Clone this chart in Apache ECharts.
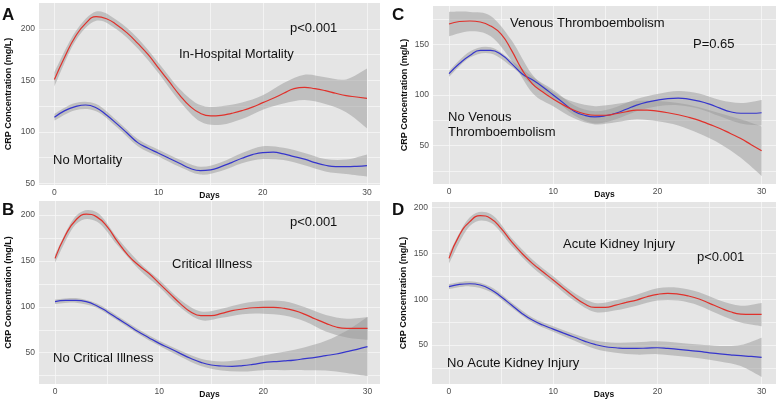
<!DOCTYPE html>
<html><head><meta charset="utf-8">
<script src="https://cdn.jsdelivr.net/npm/echarts@6/dist/echarts.min.js"></script>
<style>html,body{margin:0;padding:0;background:#fff}#c{width:780px;height:403px}</style>
</head><body><div id="c"></div>
<script>
// ---- data ----
const days = [0,1,2,3,4,5,6,7,8,9,10,11,12,13,14,15,16,17,18,19,20,21,22,23,24,25,26,27,28,29,30];
const bandDays = [0,2,4,6,8,10,12,14,16,18,20,22,24,26,28,30];
const xTickLabels = [0,10,20,30];

// Panel A: In-Hospital Mortality vs No Mortality
const aRed  = [151,173,192.5,205.5,212,210,204,196,186,175,162,149,136,125,118,115.5,116,118,120.6,124,128.4,132.6,137.5,142,143.3,142,140,137.5,135.2,133.9,132.6];
const aBlue = [114.2,120.6,124.5,126.1,123.5,116.4,107.7,98.6,89.5,84,79.2,74.3,69.5,64.6,62.3,63,66.2,70.1,74.3,77.8,79.8,80.2,78.5,75.9,73.4,70.1,67.5,66.2,66.2,66.5,67.2];
const aRedLo  = [144,188,208,199.5,181,157,130,110,107,112.5,121.5,127.5,131,127,119,103.5];
const aRedHi  = [158,197,217,208.5,191,167,142,126,125,128.5,135.5,147.5,155.5,153,151,161.5];
const aBlueLo = [111,121,120,104.5,86,76,66,58.5,62,69.5,73.5,72.5,67.5,61.5,59,56.5];
const aBlueHi = [117.5,128,127,111,93,82.5,73,66,70.5,79.5,86,84.5,79.5,73.5,73,78];

// Panel B: Critical Illness vs No Critical Illness
const bRed  = [152.8,178,194.6,201,198,187.3,171,156.4,145.5,136.5,125.6,114.7,103.8,94.7,90.3,90.3,92.9,95.8,97.6,99,99.4,99.4,98.3,95.8,91.8,86.7,82,78,76.5,76.5,76.5];
const bBlue = [105.6,107,107,105.6,101.2,94.7,87.4,80.2,72.9,66.4,60.2,54.8,49.3,43.9,39.5,36.6,35.5,35.2,35.9,37.3,39.1,40.2,41,42,43.5,45,46.8,48.6,51.1,53.7,56.6];
const bRedLo  = [148,190,193,167,141.5,121.5,99.5,85.5,88,92,92.5,90.5,84,73,66.5,64];
const bRedHi  = [157,199,203,175,149.5,129.5,108,95,98,103.5,106.5,106,99.5,91,87,89];
const bBlueLo = [103,104.5,99,85,70.5,57.5,46,35.5,30.5,29.5,31,31,31,30.5,28,24.5];
const bBlueHi = [108,109.5,103.5,90,75.5,63,52.5,43.5,40.5,42.5,47,51,56,63,74,89];

// Panel C: Venous Thromboembolism vs No Venous Thromboembolism
const cRed  = [170,172.5,173,172,168,160,144,125,111,103,96,90,85,81.5,80,80,81.5,83.5,85,85,84,82.5,80.5,78,75,71,67,62,57,51,45];
const cBlue = [121,131,139,144,144,140,131,121,115,108,100,92,84,80,78.5,79.5,82,86,90,93,95,96.5,97,96,94,91,87,83.5,82,82,82.5];
const cRedLo  = [158,163,158,134,102,89,77,71,73,76,74,70,62,52,38,20];
const cRedHi  = [182,182,178,154,120,103,93,89,91,94,94,92,88,82,76,69];
const cBlueLo = [118,137,141,128,110,97,80,72,76,84,89,90,86.5,79,72,70];
const cBlueHi = [124,143,147,134,118,105,90,84,88,96,101,104,101.5,95,92,95];

// Panel D: Acute Kidney Injury vs No Acute Kidney Injury
const dRed  = [144.6,170,184.7,191.3,188.3,177.4,162.8,150.1,139.2,130,121,111.8,102.7,95,91,91,93.6,96.5,99.1,102.7,105.3,106.4,105.6,103.5,100.2,95.5,90.7,86.3,83.8,83.4,83.4];
const dBlue = [113.7,116.2,116.9,115.5,110.7,102.7,93.6,84.5,77.2,71.8,67.4,63,58.7,54.3,50.6,48.1,47,46.3,46.3,46.6,47,46.3,45.2,44.1,43,41.5,40.4,39.3,38.3,37.5,36.4];
const dRedLo  = [139,180,183.5,158.5,135,117,98.5,86,88,93,98.5,98.5,93,83,74.5,70.5];
const dRedHi  = [150,189.5,193,167,143.5,125,107,96,99,105,112,112.5,107.5,98.5,93,96];
const dBlueLo = [111,114,108,91,74.5,64.5,55,46,41.5,39.5,40,38,35.5,32,27,15];
const dBlueHi = [116.5,119.5,113.5,96.5,80,70.5,62,55,52.5,53,54,52.5,50.5,49,50,58];

const yLabelsA = [50,100,150,200];
const yLabelsB = [50,100,150,200];
const yLabelsC = [50,100,150];
const yLabelsD = [50,100,150,200];
const yGridA = [50,75,100,125,150,175,200];
const yGridB = [25,50,75,100,125,150,175,200];
const yGridC = [25,50,75,100,125,150,175];
const yGridD = [25,50,75,100,125,150,175,200];
const xGrid = [0,5,10,15,20,25,30];

// ---- layout ----
const panels = [
  {grid:{left:39,top:3,width:341,height:182}, x:[-1.48,31.25], y:[48.3,225.3], yl:yLabelsA, yg:yGridA, nameGap:26,
   red:aRed, blue:aBlue, rl:aRedLo, rh:aRedHi, bl:aBlueLo, bh:aBlueHi},
  {grid:{left:39,top:201,width:341,height:183}, x:[-1.54,31.2], y:[15.9,215.3], yl:yLabelsB, yg:yGridB, nameGap:26,
   red:bRed, blue:bBlue, rl:bRedLo, rh:bRedHi, bl:bBlueLo, bh:bBlueHi},
  {grid:{left:433,top:6,width:343,height:178}, x:[-1.54,31.38], y:[12.2,187.8], yl:yLabelsC, yg:yGridC, nameGap:24,
   red:cRed, blue:cBlue, rl:cRedLo, rh:cRedHi, bl:cBlueLo, bh:cBlueHi},
  {grid:{left:432,top:202,width:344,height:182}, x:[-1.63,31.38], y:[7.4,206.2], yl:yLabelsD, yg:yGridD, nameGap:24,
   red:dRed, blue:dBlue, rl:dRedLo, rh:dRedHi, bl:dBlueLo, bh:dBlueHi}
];

const BG = '#e5e5e5', GRIDC = '#f6f6f6', RED = '#e0312b', BLUE = '#3535cc', BAND = '#999999';
const labelFont = {fontFamily:'Liberation Sans', fontSize:8.5, color:'#4d4d4d'};

// smooth path through pixel points (Catmull-Rom -> cubic Bezier)
function curve(pts, first) {
  let s = (first ? 'M' : 'L') + pts[0][0].toFixed(2) + ' ' + pts[0][1].toFixed(2);
  for (let k = 0; k < pts.length - 1; k++) {
    const p0 = pts[Math.max(k-1,0)], p1 = pts[k], p2 = pts[k+1], p3 = pts[Math.min(k+2, pts.length-1)];
    const c1 = [p1[0] + (p2[0]-p0[0])/6, p1[1] + (p2[1]-p0[1])/6];
    const c2 = [p2[0] - (p3[0]-p1[0])/6, p2[1] - (p3[1]-p1[1])/6];
    s += ' C' + c1[0].toFixed(2) + ' ' + c1[1].toFixed(2) + ' ' + c2[0].toFixed(2) + ' ' + c2[1].toFixed(2) + ' ' + p2[0].toFixed(2) + ' ' + p2[1].toFixed(2);
  }
  return s;
}

function bandSeries(i, lo, hi) {
  return {type:'custom', xAxisIndex:i, yAxisIndex:i, silent:true, z:2, animation:false,
    data: bandDays.map((d,j)=>[d, lo[j], hi[j]]),
    encode: {x:0, y:[1,2]},
    renderItem: (params, api) => {
      if (params.dataIndex !== 0) return null;
      const top = bandDays.map((d,j)=>api.coord([d, hi[j]]));
      const bot = bandDays.map((d,j)=>api.coord([d, lo[j]])).reverse();
      const pathData = curve(top, true) + ' ' + curve(bot, false) + ' Z';
      return {type:'path', shape:{pathData:pathData}, style:{fill:BAND, opacity:0.5}};
    }};
}

const grids=[], xAxes=[], yAxes=[], series=[];
panels.forEach((p,i)=>{
  grids.push(Object.assign({show:true, backgroundColor:BG, borderWidth:0, containLabel:false}, p.grid));
  xAxes.push({type:'value', gridIndex:i, min:p.x[0], max:p.x[1],
    name:'Days', nameLocation:'middle', nameGap:6, nameMoveOverlap:false,
    nameTextStyle:{fontFamily:'Liberation Sans', fontSize:8.5, fontWeight:'bold', color:'#111'},
    axisLine:{show:false}, axisTick:{show:false, customValues:xGrid},
    axisLabel:Object.assign({customValues:xTickLabels, margin:3.5}, labelFont),
    splitLine:{show:true, lineStyle:{color:GRIDC, width:0.8}}});
  yAxes.push({type:'value', gridIndex:i, min:p.y[0], max:p.y[1],
    name:'CRP Concentration (mg/L)', nameLocation:'middle', nameGap:p.nameGap, nameRotate:90, nameMoveOverlap:false,
    nameTextStyle:{fontFamily:'Liberation Sans', fontSize:9, fontWeight:'bold', color:'#111'},
    axisLine:{show:false}, axisTick:{show:false, customValues:p.yg},
    axisLabel:Object.assign({customValues:p.yl, margin:4}, labelFont),
    splitLine:{show:true, lineStyle:{color:GRIDC, width:0.8}}});
  series.push(bandSeries(i, p.rl, p.rh));
  series.push(bandSeries(i, p.bl, p.bh));
  const base = {type:'line', xAxisIndex:i, yAxisIndex:i, symbol:'none', smooth:0.5, silent:true, animation:false, z:5};
  series.push(Object.assign({}, base, {data:days.map((d,j)=>[d,p.blue[j]]), lineStyle:{color:BLUE, width:1.2}}));
  series.push(Object.assign({}, base, {data:days.map((d,j)=>[d,p.red[j]]), lineStyle:{color:RED, width:1.2}}));
});

const txt = (x,y,s,size,bold) => ({type:'text', x:x, y:y, z:100,
  style:{text:s, fill:'#111', font:(bold?'bold ':'')+size+'px "Liberation Sans"', textAlign:'left', textVerticalAlign:'middle'}});

const graphics = [
  txt(2,15,'A',17,true), txt(2,210,'B',17,true), txt(392,15,'C',17,true), txt(392,210,'D',17,true),
  txt(290,28,'p<0.001',13), txt(179,54,'In-Hospital Mortality',13), txt(53,160,'No Mortality',13),
  txt(290,222,'p<0.001',13), txt(172,264,'Critical Illness',13), txt(53,358,'No Critical Illness',13),
  txt(510,23,'Venous Thromboembolism',13), txt(693,44,'P=0.65',13), txt(448,117,'No Venous',13), txt(448,132,'Thromboembolism',13),
  txt(563,244,'Acute Kidney Injury',13), txt(697,257,'p<0.001',13), txt(447,363,'No Acute Kidney Injury',13)
];

const chart = echarts.init(document.getElementById('c'), null, {renderer:'canvas'});
chart.setOption({animation:false, backgroundColor:'#fff', grid:grids, xAxis:xAxes, yAxis:yAxes, series:series, graphic:graphics});
</script></body></html>
